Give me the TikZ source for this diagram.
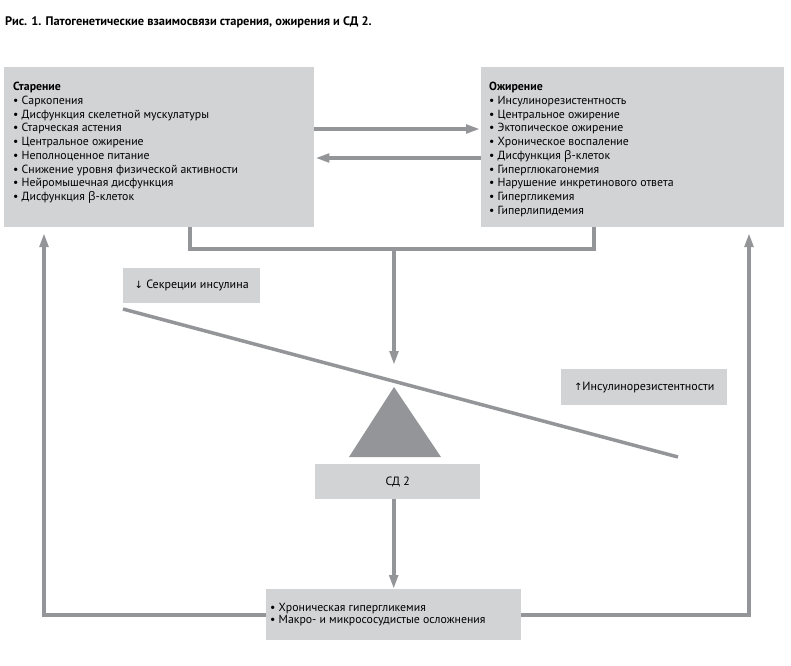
\documentclass[tikz,border=0pt]{standalone}
\usepackage{fontspec}
\setmainfont{PT Sans}
\newfontfamily\symf{DejaVu Sans}
\newfontfamily\grkf{Open Sans}
\usetikzlibrary{arrows.meta,calc}
\definecolor{boxgray}{HTML}{D1D3D4}
\definecolor{linegray}{HTML}{939598}
\newcommand{\bt}{{\grkf β}}
\tikzset{
  box/.style={fill=boxgray, draw=none, inner sep=0pt, anchor=north west},
  conn/.style={draw=linegray, line width=3.8pt},
  arr/.style={conn, -{Triangle[length=14pt,width=8.5pt]}},
  txt/.style={font=\fontsize{11.8}{13.75}\selectfont, align=left, inner sep=0pt, anchor=north west, text=black},
  lbl/.style={font=\fontsize{12}{14}\selectfont, inner sep=0pt, text=black}
}
\begin{document}
\begin{tikzpicture}[x=1pt,y=-1pt]
\useasboundingbox (0,0) rectangle (791,665);
\node[anchor=west, inner sep=0pt, font=\fontsize{12.4}{14}\selectfont\bfseries] (title) at (5,22) {Рис. 1. Патогенетические взаимосвязи старения, ожирения и СД 2.};
% main boxes
\node[box, minimum width=310pt, minimum height=160pt] (old) at (4,67) {};
\node[box, minimum width=303pt, minimum height=160pt] (obe) at (481,67) {};
\node[txt] (oldtxt) at (13,82) {\textbf{Старение}\\• Саркопения\\• Дисфункция скелетной мускулатуры\\• Старческая астения\\• Центральное ожирение\\• Неполноценное питание\\• Снижение уровня физической активности\\• Нейромышечная дисфункция\\• Дисфункция \bt-клеток};
\node[txt] (obetxt) at (489,82) {\textbf{Ожирение}\\• Инсулинорезистентность\\• Центральное ожирение\\• Эктопическое ожирение\\• Хроническое воспаление\\• Дисфункция \bt-клеток\\• Гиперглюкагонемия\\• Нарушение инкретинового ответа\\• Гипергликемия\\• Гиперлипидемия};
% arrows between boxes
\draw[arr] ($(old.north east)+(0,62)$) -- ($(obe.north west)+(-1,62)$);
\draw[arr] ($(obe.north west)+(0,91)$) -- ($(old.north east)+(1,91)$);
% collecting connector
\coordinate (j) at (394,249);
\coordinate (tipc) at (394,365);
\draw[conn] ($(old.south west)+(186,0)$) |- (j) -| ($(obe.south west)+(113,0)$);
\draw[arr] (j) -- (tipc);
% labels
\node[box, minimum width=137pt, minimum height=35pt] (sec) at (123,268) {};
\node[lbl] (sectxt) at (sec.center) {{\symf\fontsize{10}{12}\selectfont ↓} Секреции инсулина};
\node[box, minimum width=166pt, minimum height=36pt] (ir) at (561,369) {};
\node[lbl] (irtxt) at (ir.center) {{\symf\fontsize{10}{12}\selectfont ↑}Инсулинорезистентности};
% balance
\coordinate (beamL) at (123,309);
\coordinate (beamR) at (678,457);
\draw[draw=linegray, line width=3.5pt] (beamL) -- (beamR);
\fill[linegray] (394,387) -- (441,457) -- (349,457) -- cycle;
% SD2
\node[box, minimum width=165pt, minimum height=35pt] (sd) at (315,464) {};
\node[lbl] (sdtxt) at (sd.center) {СД 2};
% bottom box
\node[box, minimum width=255pt, minimum height=51pt] (bot) at (266,589) {};
\node[txt, anchor=west, font=\fontsize{11.8}{12}\selectfont] (bottxt) at ($(bot.west)+(4,0)$) {• Хроническая гипергликемия\\• Макро- и микрососудистые осложнения};
\draw[arr] (sd.south -| bot.north) -- (bot.north);
\coordinate (tipL) at (44,233);
\coordinate (tipR) at (749,233);
\draw[arr] (bot.west) -| (tipL);
\draw[arr] (bot.east) -| (tipR);
\end{tikzpicture}
\end{document}
